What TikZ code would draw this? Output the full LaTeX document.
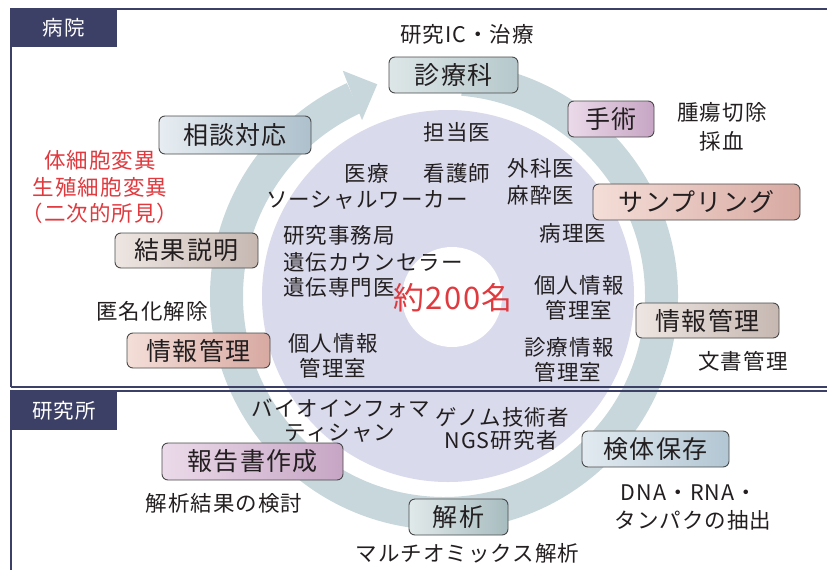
\documentclass[tikz,border=0pt]{standalone}
\usepackage{fontspec}
\setmainfont{Noto Sans CJK JP}[LetterSpace=5]
\usetikzlibrary{calc}
\definecolor{navy}{HTML}{3D4066}
\definecolor{ringc}{HTML}{C8D7DC}
\definecolor{lav}{HTML}{D9DAEC}
\definecolor{txt}{HTML}{231F20}
\definecolor{redt}{HTML}{E0393E}
\definecolor{boxline}{HTML}{4A4A4A}
\definecolor{blA}{HTML}{DDE6E7}\definecolor{blB}{HTML}{B6C8CC}
\definecolor{puA}{HTML}{EBDAE9}\definecolor{puB}{HTML}{C6A5C4}
\definecolor{saA}{HTML}{F4DED8}\definecolor{saB}{HTML}{D7A9A1}
\definecolor{taA}{HTML}{EEE6E2}\definecolor{taB}{HTML}{C6B7B1}
\definecolor{sbA}{HTML}{E7EDF2}\definecolor{sbB}{HTML}{ADC0CC}
\definecolor{gbA}{HTML}{E1E9EA}\definecolor{gbB}{HTML}{A7BCBF}
\definecolor{kbA}{HTML}{E2EAF0}\definecolor{kbB}{HTML}{B2C6D3}
\begin{document}
\begin{tikzpicture}[x=1pt,y=-1pt,
  lbl/.style={font=\fontsize{21.5}{25}\selectfont, text=txt, inner sep=0pt},
  redl/.style={lbl, text=redt},
  gbox/.style n args={3}{draw=boxline, line width=0.9pt, rounded corners=6pt,
    left color=#1, right color=#2, minimum width=#3, minimum height=36pt,
    inner sep=0pt, font=\fontsize{25}{30}\selectfont, text=txt},
  tag/.style={fill=navy, text=white, font=\fontsize{20.5}{25}\selectfont,
    minimum width=106pt, minimum height=38pt, inner sep=0pt},
  panel/.style={draw=navy, line width=1.3pt}
]
\useasboundingbox (0,0) rectangle (827,570);
\clip (0,0) rectangle (827,570);
\fill[white] (0,0) rectangle (827,570);

% ring with arrow
\coordinate (rc) at (444,296);
\draw[ringc, line width=33pt] ($(rc)+(85:217.5pt)$) arc[start angle=85, end angle=-245.5, radius=217.5pt];
\fill[ringc] ($(rc)+(115:194pt)$) -- ($(rc)+(107.5:222pt)$) -- ($(rc)+(114.2:247pt)$) -- cycle;

% staff circle
\fill[lav] (448,296) circle[radius=186pt];
\fill[white] (452,297) circle[radius=50pt];

% panels
\draw[panel] (11,387) -- (11,9) -- (835,9);
\draw[panel] (11,387) -- (835,387);
\draw[panel] (835,391) -- (11,391) -- (11,580);
\node[tag] (hosp) at (64,28) {病院};
\node[tag, minimum height=39pt] (lab) at (64,410.5) {研究所};

% process boxes
\node[gbox={blA}{blB}{129pt}] (shinryo) at (453.5,75) {診療科};
\node[gbox={puA}{puB}{86pt}] (shujutsu) at (611,119) {手術};
\node[gbox={saA}{saB}{207pt}] (sampling) at (696.5,202) {サンプリング};
\node[gbox={taA}{taB}{143pt}, minimum height=35pt] (johoR) at (707.5,320.5) {情報管理};
\node[gbox={sbA}{sbB}{152pt}, minimum height=38pt] (sodan) at (235,135) {相談対応};
\node[gbox={taA}{taB}{143pt}, minimum height=35pt] (kekka) at (186.5,250.5) {結果説明};
\node[gbox={saA}{saB}{143pt}, minimum height=35pt] (johoL) at (198.5,350.5) {情報管理};
\node[gbox={puA}{puB}{181pt}, minimum height=37pt] (hokoku) at (252.5,461.5) {報告書作成};
\node[gbox={gbA}{gbB}{99pt}] (kaiseki) at (458.5,517) {解析};
\node[gbox={kbA}{kbB}{147pt}] (kentai) at (655.5,449) {検体保存};

% outer labels
\node[lbl] (ic) at (467,34) {研究IC・治療};
\node[lbl] (shuyo) at (722,112) {腫瘍切除};
\node[lbl] (saiketsu) at (722,141) {採血};
\node[lbl] (bunsho) at (743,361) {文書管理};
\node[redl] (r1) at (100,160) {体細胞変異};
\node[redl] (r2) at (100,187) {生殖細胞変異};
\node[redl] (r3) at (100,213) {（二次的所見）};
\node[lbl] (tokumei) at (152,311) {匿名化解除};
\node[lbl] (kento) at (224,503) {解析結果の検討};
\node[lbl] (multi) at (467.5,553) {マルチオミックス解析};
\node[lbl] (dna) at (689,493) {DNA・RNA・};
\node[lbl] (tanpaku) at (693,520) {タンパクの抽出};

% staff labels
\node[lbl] (tanto) at (457,132) {担当医};
\node[lbl] (iryo) at (367,173) {医療};
\node[lbl] (kango) at (457,173) {看護師};
\node[lbl] (geka) at (541,168) {外科医};
\node[lbl] (masui) at (541,195) {麻酔医};
\node[lbl] (social) at (367,200) {ソーシャルワーカー};
\node[lbl, anchor=west] (jimu) at (283,235) {研究事務局};
\node[lbl, anchor=west] (counsel) at (283,262) {遺伝カウンセラー};
\node[lbl, anchor=west] (senmon) at (283,287) {遺伝専門医};
\node[lbl] (byori) at (573,233) {病理医};
\node[lbl, text=redt, font=\fontsize{31}{34}\selectfont] (total) at (453,298) {約200名};
\node[lbl] (kojinR1) at (579,285) {個人情報};
\node[lbl] (kojinR2) at (579,310) {管理室};
\node[lbl] (shinjo1) at (569,347) {診療情報};
\node[lbl] (shinjo2) at (568,372) {管理室};
\node[lbl] (kojinL1) at (333,343) {個人情報};
\node[lbl] (kojinL2) at (333,368) {管理室};
\node[lbl] (bio1) at (341,408) {バイオインフォマ};
\node[lbl] (bio2) at (340,433) {ティシャン};
\node[lbl] (genome) at (502,417) {ゲノム技術者};
\node[lbl] (ngs) at (501,440) {NGS研究者};
\end{tikzpicture}
\end{document}
